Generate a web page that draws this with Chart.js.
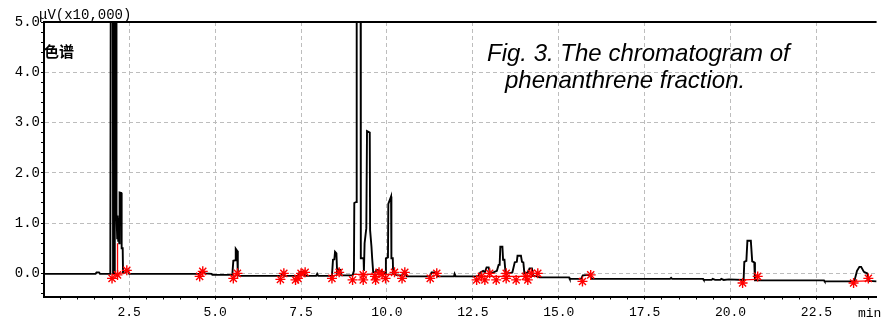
<!DOCTYPE html>
<html>
<head>
<meta charset="utf-8">
<script src="https://cdn.jsdelivr.net/npm/chart.js@4"></script>
<style>
    body { margin: 0; background: #fff; }
    #wrap { width: 883px; height: 324px; position: relative; }
</style>
</head>
<body>
<div id="wrap"><canvas id="chromChart"></canvas></div>
<script>
// detector trace, time in min / signal in uV x10,000 (off-scale peaks set above 5.0)
const traceTime = [
    0.02, 1.52, 1.55, 1.62, 1.65, 1.95, 1.97, 2.02, 2.03, 2.07, 2.08, 2.12, 2.13, 2.15, 2.16, 2.18, 2.19, 2.21,
    2.22, 2.27, 2.28, 2.31, 2.32, 2.40, 2.43, 2.47, 2.50, 4.55, 4.60, 4.66, 4.70, 4.90, 4.92, 5.10, 5.50, 5.53,
    5.58, 5.60, 5.64, 5.66, 5.70, 6.92, 6.96, 7.00, 7.42, 7.46, 7.58, 7.62, 7.94, 7.97, 8.00, 8.40, 8.43, 8.47,
    8.49, 8.53, 8.55, 8.58, 8.64, 8.67, 9.00, 9.04, 9.05, 9.11, 9.12, 9.23, 9.24, 9.32, 9.33, 9.35, 9.40, 9.42,
    9.50, 9.51, 9.55, 9.57, 9.60, 9.66, 9.70, 9.76, 9.80, 9.85, 9.90, 9.95, 9.97, 10.03, 10.04, 10.12, 10.13,
    10.17, 10.18, 10.30, 10.45, 10.48, 10.55, 10.58, 11.25, 11.30, 11.42, 11.46, 11.95, 11.97, 12.00, 12.65,
    12.72, 12.80, 12.85, 12.90, 12.96, 13.00, 13.10, 13.20, 13.25, 13.28, 13.30, 13.36, 13.38, 13.42, 13.45,
    13.55, 13.65, 13.72, 13.78, 13.80, 13.90, 13.93, 13.97, 14.00, 14.10, 14.15, 14.22, 14.25, 14.35, 14.45,
    15.30, 15.32, 15.65, 15.70, 15.90, 15.95, 18.24, 18.27, 18.30, 19.20, 19.22, 19.45, 19.48, 19.55, 19.70,
    19.73, 19.80, 19.95, 20.38, 20.40, 20.46, 20.49, 20.59, 20.63, 20.69, 20.71, 22.72, 22.74, 23.60, 23.68,
    23.75, 23.80, 23.88, 23.98, 24.02, 24.25
];
const traceSignal = [
    -0.01, -0.01, 0.02, 0.02, -0.01, -0.01, 9, 9, 0.0, 0.0, 9, 9, 1.2, 0.7, 1.15, 0.65, 1.1, 0.6,
    1.61, 1.6, 0.5, 0.5, 0.02, 0.02, 0.06, 0.05, -0.01, -0.01, 0.04, 0.04, 0.0, -0.01, -0.03, -0.03, -0.03, 0.25,
    0.26, 0.49, 0.45, 0.0, -0.05, -0.05, 0.0, -0.05, -0.05, 0.03, 0.03, -0.05, -0.05, -0.01, -0.05, -0.05, 0.27, 0.28,
    0.43, 0.40, 0.02, 0.08, 0.07, -0.04, -0.04, 0.05, 1.4, 1.42, 9, 9, 0.3, 0.3, 0.05, 0.6, 0.9, 2.83,
    2.8, 0.86, 0.53, 0.3, 0.02, 0.02, 0.07, 0.06, 0.0, 0.05, 0.02, 0.0, 0.3, 0.32, 1.38, 1.53, 0.3,
    0.3, 0.0, -0.04, -0.04, 0.0, 0.0, -0.06, -0.06, 0.02, 0.02, -0.06, -0.06, -0.01, -0.06, -0.06,
    0.02, 0.05, 0.02, 0.12, 0.12, 0.0, 0.02, 0.05, 0.17, 0.17, 0.53, 0.53, 0.27, 0.27, 0.02,
    0.0, 0.02, 0.22, 0.23, 0.35, 0.35, 0.23, 0.22, 0.0, 0.02, 0.1, 0.1, -0.04, -0.06, -0.08,
    -0.08, -0.11, -0.11, -0.04, -0.03, -0.11, -0.11, -0.09, -0.11, -0.11, -0.13, -0.13, -0.11, -0.13, -0.13,
    -0.11, -0.13, -0.12, -0.13, 0.23, 0.25, 0.65, 0.65, 0.24, 0.22, -0.14, -0.14, -0.16, -0.16, 0.05,
    0.13, 0.13, 0.03, 0.0, -0.15, -0.16
];

// integration baselines and drop line (null breaks the line)
const baseTime = [2.00, 2.43, null, 2.16, 2.16, null, 5.53, 5.65, null, 8.40, 8.61, null, 9.00, 10.22, null, 12.61, 14.39, null, 20.35, 20.79, null, 23.58, 24.01];
const baseSignal = [-0.02, 0.02, null, 0.0, 0.6, null, -0.04, -0.02, null, -0.05, -0.03, null, -0.02, -0.02, null, -0.06, -0.06, null, -0.13, -0.12, null, -0.16, -0.15];

// peak start / end marks
const markTime = [
    2.00, 2.16, 2.43, 4.55, 4.64, 5.53, 5.65, 6.90, 7.00, 7.34, 7.41, 7.50, 7.62, 8.40, 8.61, 9.00, 9.31, 9.31,
    9.65, 9.67, 9.77, 9.86, 9.96, 10.22, 10.44, 10.52, 11.26, 11.45, 12.61, 12.75, 12.85, 12.99, 13.18, 13.47,
    13.47, 13.76, 14.03, 14.10, 14.20, 14.39, 15.69, 15.93, 20.35, 20.79, 23.58, 24.01
];
const markSignal = [
    -0.10, -0.03, 0.06, -0.06, 0.04, -0.10, 0.00, -0.12, 0.00, -0.13, -0.10, 0.00, 0.02, -0.10, 0.02, -0.13, -0.03, -0.13,
    -0.06, -0.13, 0.02, -0.02, -0.10, 0.02, -0.10, 0.02, -0.10, 0.00, -0.13, -0.06, -0.13, 0.00, -0.13, 0.00,
    -0.10, -0.13, -0.06, -0.13, 0.00, 0.00, -0.16, -0.03, -0.19, -0.06, -0.19, -0.10
];

const xTickLabels = ['2.5', '5.0', '7.5', '10.0', '12.5', '15.0', '17.5', '20.0', '22.5'];
const yTickLabels = ['0.0', '1.0', '2.0', '3.0', '4.0', '5.0'];

const toPoints = (xs, ys) => xs.map((x, i) => ({ x: x, y: ys[i] }));
const isMajor = (v, step) => Math.abs(v / step - Math.round(v / step)) < 1e-6;

const frameText = {
    id: 'frameText',
    afterDraw(chart) {
        const { ctx, chartArea } = chart;
        ctx.save();
        ctx.strokeStyle = '#000';
        ctx.lineWidth = 2;
        ctx.beginPath();
        ctx.moveTo(chartArea.left, chartArea.top);
        ctx.lineTo(chartArea.right, chartArea.top);
        ctx.stroke();

        ctx.fillStyle = '#000';
        ctx.textBaseline = 'alphabetic';
        ctx.font = '14px "Liberation Mono"';
        ctx.fillText('μV(x10,000)', 39, 19);
        ctx.font = 'bold 15px "Noto Sans CJK SC"';
        ctx.fillText('色谱', 44, 57);
        ctx.font = '13px "Liberation Mono"';
        ctx.fillText('min', 858, 317);

        ctx.font = 'italic 24px "Liberation Sans"';
        ctx.fillText('Fig. 3. The chromatogram of', 487, 61);
        ctx.fillText('phenanthrene fraction.', 505, 88);
        ctx.restore();
    }
};

new Chart(document.getElementById('chromChart'), {
    type: 'line',
    data: {
        datasets: [
            {
                data: toPoints(markTime, markSignal),
                showLine: false,
                pointStyle: 'star',
                pointRadius: 5,
                borderColor: '#ff0000',
                borderWidth: 1.4,
                order: 1
            },
            {
                data: toPoints(traceTime, traceSignal),
                borderColor: '#000',
                borderWidth: 1.9,
                pointRadius: 0,
                tension: 0,
                order: 2
            },
            {
                data: toPoints(baseTime, baseSignal),
                borderColor: '#ff0000',
                borderWidth: 1.3,
                pointRadius: 0,
                spanGaps: false,
                order: 3
            }
        ]
    },
    options: {
        responsive: true,
        maintainAspectRatio: false,
        animation: false,
        layout: { padding: { top: 22, right: 0, left: 0, bottom: 0 } },
        plugins: { legend: { display: false }, tooltip: { enabled: false } },
        scales: {
            x: {
                type: 'linear',
                min: 0.02,
                max: 24.25,
                afterBuildTicks: (scale) => {
                    const ticks = [];
                    for (let v = 0.5; v <= 24.0; v += 0.5) ticks.push({ value: Math.round(v * 10) / 10 });
                    scale.ticks = ticks;
                },
                afterFit: (scale) => { scale.height = 27.5; },
                ticks: {
                    autoSkip: false,
                    maxRotation: 0,
                    padding: 5,
                    color: '#000',
                    font: { family: 'Liberation Mono', size: 13 },
                    callback: (value) => (isMajor(value, 2.5) ? xTickLabels[Math.round(value / 2.5) - 1] : '')
                },
                grid: {
                    color: (c) => (c.tick && isMajor(c.tick.value, 2.5) ? '#bdbdbd' : 'rgba(0,0,0,0)'),
                    lineWidth: 1,
                    tickColor: '#000',
                    tickWidth: 1,
                    tickLength: 3
                },
                border: { display: true, color: '#000', width: 2, dash: [4, 3] }
            },
            y: {
                min: -0.46,
                max: 5.0,
                afterBuildTicks: (scale) => {
                    const ticks = [];
                    for (let v = -0.4; v <= 5.001; v += 0.2) ticks.push({ value: Math.round(v * 10) / 10 });
                    scale.ticks = ticks;
                },
                afterFit: (scale) => { scale.width = 44; },
                ticks: {
                    autoSkip: false,
                    padding: 1,
                    color: '#000',
                    font: { family: 'Liberation Mono', size: 14 },
                    callback: (value) => (isMajor(value, 1) && value >= 0 ? yTickLabels[Math.round(value)] : '')
                },
                grid: {
                    color: (c) => (c.tick && isMajor(c.tick.value, 1) && c.tick.value >= 0 ? '#bdbdbd' : 'rgba(0,0,0,0)'),
                    lineWidth: 1,
                    tickColor: '#000',
                    tickWidth: 1,
                    tickLength: 3
                },
                border: { display: true, color: '#000', width: 2, dash: [4, 3] }
            }
        }
    },
    plugins: [frameText]
});
</script>
</body>
</html>
